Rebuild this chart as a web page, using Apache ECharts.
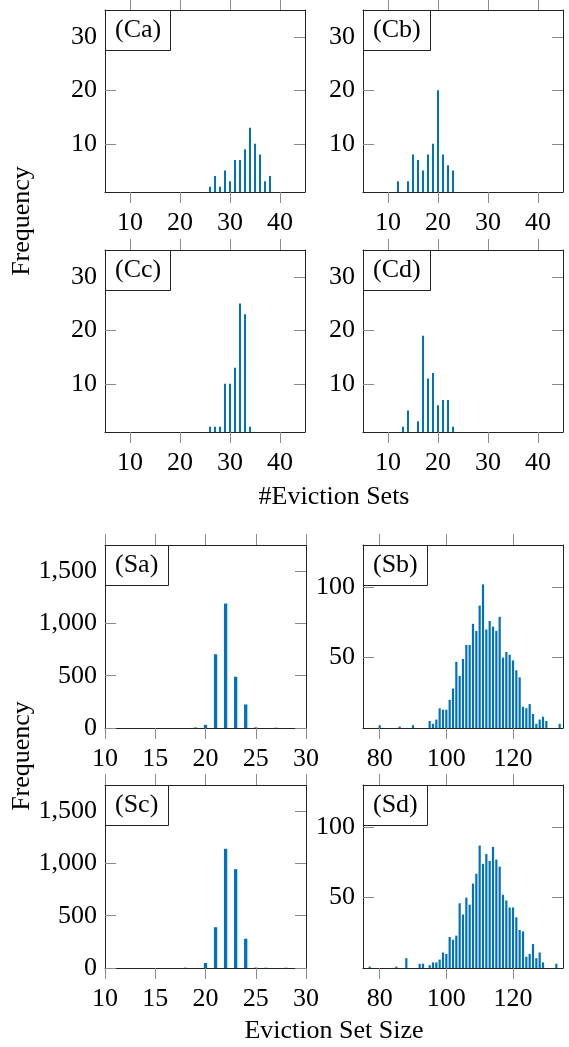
<!DOCTYPE html>
<html>
<head>
<meta charset="utf-8">
<script src="https://cdn.jsdelivr.net/npm/echarts@6/dist/echarts.min.js"></script>
<style>
  html, body { margin: 0; padding: 0; background: #fff; }
  #main { width: 569px; height: 1047px; }
</style>
</head>
<body>
<div id="main"></div>
<script>
// Number of eviction sets found per run (C panels)
const caSets = [21, 22, 23, 24, 25, 26, 27, 28, 29, 30, 31, 32, 33, 34, 35, 36, 37, 38];
const caFreq = [1, 1, 1, 1, 1, 2, 4, 2, 5, 3, 7, 7, 9, 13, 10, 8, 3, 4];
const cbSets = [12, 14, 15, 16, 17, 18, 19, 20, 21, 22, 23];
const cbFreq = [3, 3, 8, 7, 5, 8, 10, 20, 8, 6, 5];
const ccSets = [15, 19, 23, 25, 26, 27, 28, 29, 30, 31, 32, 33, 34];
const ccFreq = [1, 1, 1, 1, 2, 2, 2, 10, 10, 13, 25, 23, 2];
const cdSets = [11, 12, 13, 14, 16, 17, 18, 19, 20, 21, 22, 23, 24];
const cdFreq = [1, 1, 2, 5, 3, 19, 11, 12, 6, 7, 7, 2, 1];

// Eviction set sizes (S panels)
const saSize = [19, 20, 21, 22, 23, 24, 25, 27];
const saFreq = [5, 30, 705, 1190, 490, 225, 6, 3];
const scSize = [18, 20, 21, 22, 23, 24, 25, 26, 28];
const scFreq = [3, 48, 390, 1140, 945, 280, 4, 3, 3];
const sbSize = [80, 86, 90, 95, 96, 97, 98, 99, 100, 101, 102, 103, 104, 105, 106, 107, 108, 109,
  110, 111, 112, 113, 114, 115, 116, 117, 118, 119, 120, 121, 122, 123, 124, 125, 126, 127, 128, 129, 130, 134];
const sbFreq = [2, 1, 2, 5, 3, 6, 14, 13, 13, 20, 28, 47, 37, 49, 59, 59, 74, 69,
  87, 102, 70, 76, 72, 69, 79, 50, 54, 52, 48, 41, 36, 15, 14, 17, 10, 3, 6, 8, 5, 3];
const sdSize = [77, 85, 88, 92, 93, 95, 96, 97, 98, 99, 100, 101, 102, 103, 104, 105, 106, 107, 108, 109,
  110, 111, 112, 113, 114, 115, 116, 117, 118, 119, 120, 121, 122, 123, 124, 125, 126, 127, 128, 129, 133];
const sdFreq = [1, 1, 7, 3, 3, 2, 4, 4, 6, 11, 10, 22, 20, 23, 46, 38, 50, 45, 60, 67,
  87, 74, 81, 76, 86, 77, 72, 52, 48, 43, 43, 36, 27, 26, 8, 10, 17, 7, 11, 4, 3];

// Tick positions
const cTicksX = [10, 20, 30, 40];
const cTicksY = [10, 20, 30];
const sSmallTicksX = [10, 15, 20, 25, 30];
const sSmallTicksY = [0, 500, 1000, 1500];
const sLargeTicksX = [80, 100, 120];
const sLargeTicksY = [50, 100];

const FONT = 'Liberation Serif';
const FRAME = '#222222';
const TICK = '#8a8a8a';
const BAR = '#0072BD';

const panels = [
  { tag: '(Ca)', xs: caSets, ys: caFreq, box: [105, 10, 200, 182], xr: [5, 45], yr: [1, 35], xt: cTicksX, yt: cTicksY, bw: 2 },
  { tag: '(Cb)', xs: cbSets, ys: cbFreq, box: [363, 10, 200, 182], xr: [5, 45], yr: [1, 35], xt: cTicksX, yt: cTicksY, bw: 2 },
  { tag: '(Cc)', xs: ccSets, ys: ccFreq, box: [105, 250, 200, 182], xr: [5, 45], yr: [1, 35], xt: cTicksX, yt: cTicksY, bw: 2 },
  { tag: '(Cd)', xs: cdSets, ys: cdFreq, box: [363, 250, 200, 182], xr: [5, 45], yr: [1, 35], xt: cTicksX, yt: cTicksY, bw: 2 },
  { tag: '(Sa)', xs: saSize, ys: saFreq, box: [105, 545, 201, 183], xr: [10, 30], yr: [0, 1750], xt: sSmallTicksX, yt: sSmallTicksY, bw: 3.3 },
  { tag: '(Sb)', xs: sbSize, ys: sbFreq, box: [363, 545, 200, 183], xr: [75, 135], yr: [0, 130], xt: sLargeTicksX, yt: sLargeTicksY, bw: 2.2 },
  { tag: '(Sc)', xs: scSize, ys: scFreq, box: [105, 785, 201, 183], xr: [10, 30], yr: [0, 1750], xt: sSmallTicksX, yt: sSmallTicksY, bw: 3.3 },
  { tag: '(Sd)', xs: sdSize, ys: sdFreq, box: [363, 785, 200, 183], xr: [75, 135], yr: [0, 130], xt: sLargeTicksX, yt: sLargeTicksY, bw: 2.2 }
];

const labelStyle = { color: '#000', fontFamily: FONT, fontSize: 26 };
const fmt = v => v.toLocaleString('en-US');

const grid = [], xAxis = [], yAxis = [], series = [], title = [];

panels.forEach((p, i) => {
  const [l, t, w, h] = p.box;
  grid.push({ left: l, top: t, width: w, height: h, containLabel: false });

  const xBase = {
    type: 'value', gridIndex: i, min: p.xr[0], max: p.xr[1],
    splitLine: { show: false },
    axisLine: { show: true, onZero: false, lineStyle: { color: FRAME, width: 1 } },
    axisTick: { show: true, inside: false, length: 11, customValues: p.xt, lineStyle: { color: TICK, width: 1 } }
  };
  xAxis.push(Object.assign({}, xBase, {
    position: 'bottom',
    axisLabel: Object.assign({ show: true, customValues: p.xt, margin: 18, formatter: fmt }, labelStyle)
  }));
  xAxis.push(Object.assign({}, xBase, { position: 'top', axisLabel: { show: false } }));

  const yBase = {
    type: 'value', gridIndex: i, min: p.yr[0], max: p.yr[1],
    splitLine: { show: false },
    axisLine: { show: true, onZero: false, lineStyle: { color: FRAME, width: 1 } },
    axisTick: { show: true, inside: true, length: 11, customValues: p.yt, lineStyle: { color: TICK, width: 1 } }
  };
  yAxis.push(Object.assign({}, yBase, {
    position: 'left',
    axisLabel: Object.assign({ show: true, customValues: p.yt, margin: 8, formatter: fmt }, labelStyle)
  }));
  yAxis.push(Object.assign({}, yBase, { position: 'right', axisLabel: { show: false } }));

  series.push({
    type: 'bar',
    xAxisIndex: 2 * i,
    yAxisIndex: 2 * i,
    barWidth: p.bw,
    clip: true,
    itemStyle: { color: BAR },
    data: p.xs.map((x, k) => [x, p.ys[k]])
  });

  title.push({
    text: p.tag,
    left: l,
    top: t,
    padding: [6, 10, 7, 10],
    borderColor: FRAME,
    borderWidth: 1,
    backgroundColor: '#fff',
    textStyle: { fontFamily: FONT, fontSize: 26, fontWeight: 'normal', color: '#000', lineHeight: 28 }
  });
});

const axisTitleFont = '26px "Liberation Serif"';
const graphic = [
  { type: 'text', x: 22, y: 221, rotation: Math.PI / 2,
    style: { text: 'Frequency', font: axisTitleFont, fill: '#000', align: 'center', verticalAlign: 'middle' } },
  { type: 'text', x: 22, y: 756, rotation: Math.PI / 2,
    style: { text: 'Frequency', font: axisTitleFont, fill: '#000', align: 'center', verticalAlign: 'middle' } },
  { type: 'text', x: 334, y: 497,
    style: { text: '#Eviction Sets', font: axisTitleFont, fill: '#000', align: 'center', verticalAlign: 'middle' } },
  { type: 'text', x: 334, y: 1031,
    style: { text: 'Eviction Set Size', font: axisTitleFont, fill: '#000', align: 'center', verticalAlign: 'middle' } }
];

const chart = echarts.init(document.getElementById('main'), null, { renderer: 'canvas' });
chart.setOption({
  animation: false,
  backgroundColor: '#fff',
  title, grid, xAxis, yAxis, series, graphic
});
</script>
</body>
</html>
